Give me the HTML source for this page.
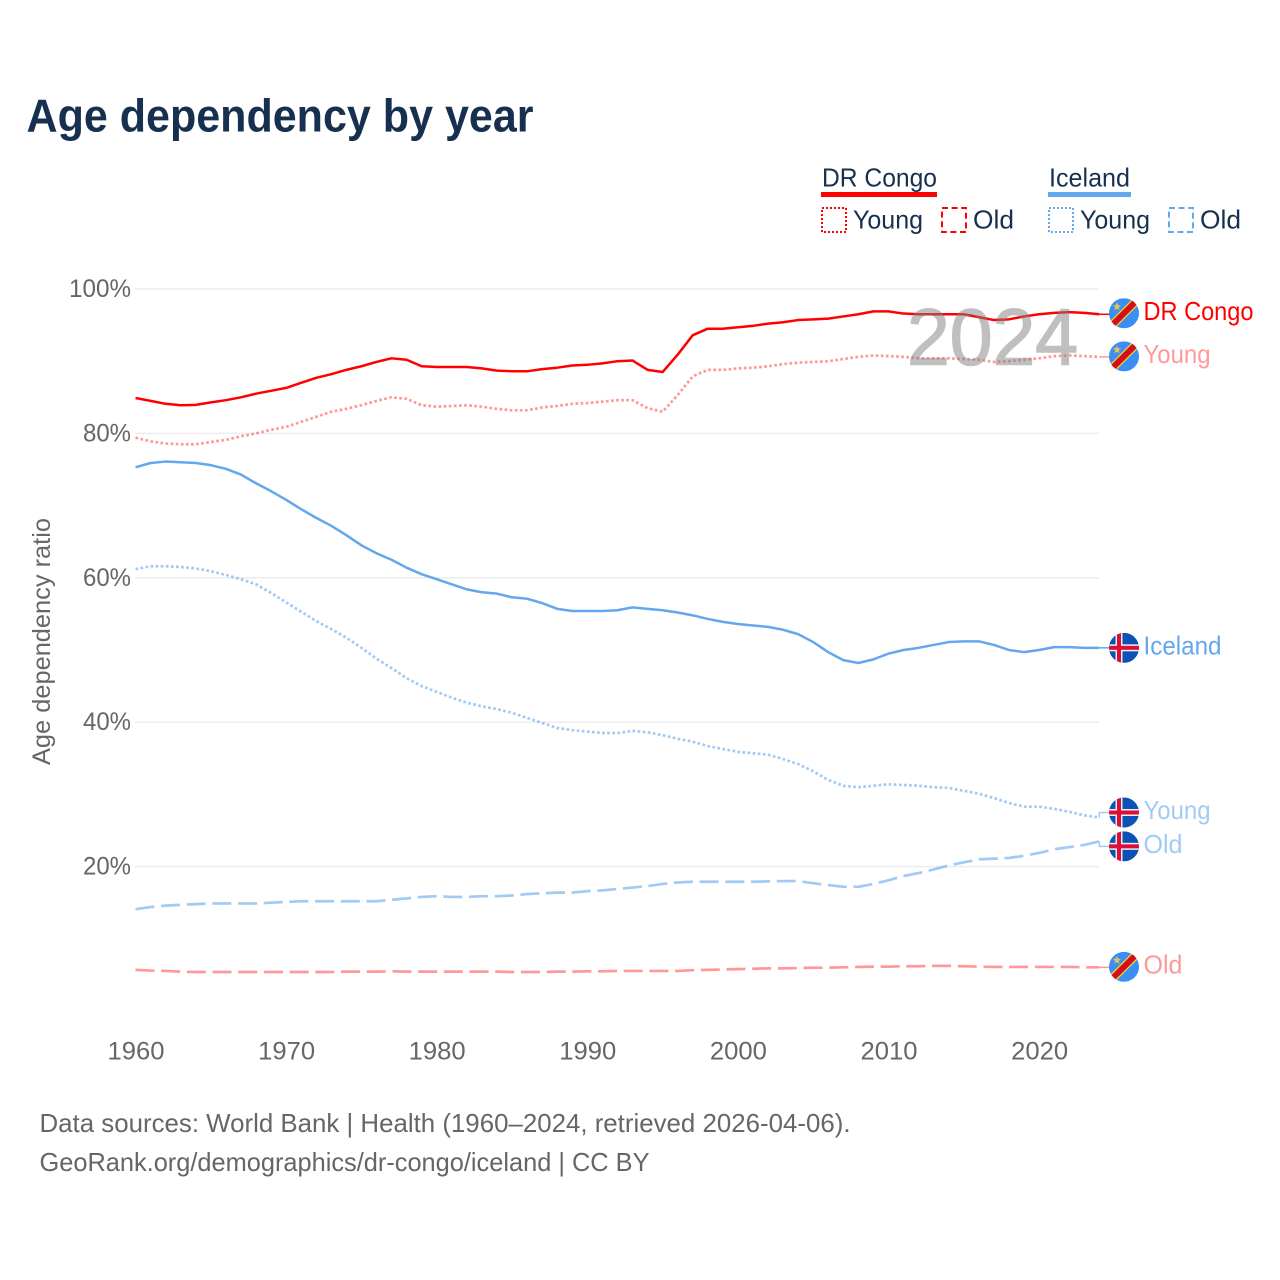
<!DOCTYPE html>
<html lang="en">
<head>
<meta charset="utf-8">
<title>Age dependency by year</title>
<style>
html,body{margin:0;padding:0;background:#fff;}
#chart{display:block;width:1280px;height:1280px;font-family:"Liberation Sans",sans-serif;}
</style>
</head>
<body>
<svg id="chart" xmlns="http://www.w3.org/2000/svg" width="1280" height="1280" viewBox="0 0 1280 1280">
  <rect x="0" y="0" width="1280" height="1280" fill="#fff"/>
  <defs>
    <clipPath id="flag-clip"><circle cx="0" cy="0" r="15"/></clipPath>
  </defs>
  <text x="26.500" y="131.500" font-size="46" font-weight="700" fill="#18304f" textLength="507" lengthAdjust="spacingAndGlyphs">Age dependency by year</text>

  <g font-size="26" fill="#18304f">
    <text x="822" y="186.500" textLength="115" lengthAdjust="spacingAndGlyphs">DR Congo</text>
    <rect x="821" y="192" width="116" height="5" fill="#ff0000"/>
    <rect x="822" y="208" width="24" height="24" fill="none" stroke="#ff0000" stroke-width="2" stroke-dasharray="2 2"/>
    <text x="853" y="228.500" textLength="70" lengthAdjust="spacingAndGlyphs">Young</text>
    <rect x="942" y="208" width="24" height="24" fill="none" stroke="#ff0000" stroke-width="2" stroke-dasharray="6 3.600"/>
    <text x="973" y="228.500" textLength="41" lengthAdjust="spacingAndGlyphs">Old</text>
    <text x="1049" y="186.500" textLength="81" lengthAdjust="spacingAndGlyphs">Iceland</text>
    <rect x="1048" y="192" width="83" height="5" fill="#63a7ec"/>
    <rect x="1049" y="208" width="24" height="24" fill="none" stroke="#63a7ec" stroke-width="2" stroke-dasharray="2 2"/>
    <text x="1080" y="228.500" textLength="70" lengthAdjust="spacingAndGlyphs">Young</text>
    <rect x="1169" y="208" width="24" height="24" fill="none" stroke="#63a7ec" stroke-width="2" stroke-dasharray="6 3.600"/>
    <text x="1200" y="228.500" textLength="41" lengthAdjust="spacingAndGlyphs">Old</text>
  </g>

  <g id="grid"></g>
  <g id="y-ticks"></g>
  <g id="x-ticks"></g>
  <text transform="translate(50,765) rotate(-90)" font-size="25" fill="#666666" textLength="247" lengthAdjust="spacingAndGlyphs">Age dependency ratio</text>

  <g id="series"></g>
  <text x="907" y="364.500" font-size="80" font-weight="400" fill="#808080" stroke="#808080" stroke-width="1.500" opacity="0.5" textLength="171" lengthAdjust="spacingAndGlyphs">2024</text>
  <g id="end-labels"></g>

  <text x="39.500" y="1132" font-size="26" fill="#666666" textLength="811" lengthAdjust="spacingAndGlyphs">Data sources: World Bank | Health (1960–2024, retrieved 2026-04-06).</text>
  <text x="39.500" y="1171" font-size="26" fill="#666666" textLength="610" lengthAdjust="spacingAndGlyphs">GeoRank.org/demographics/dr-congo/iceland | CC BY</text>
</svg>
<script>
var firstYear = 1960;
var yTickValues = [100, 80, 60, 40, 20];
var yGridValues = [100, 80, 60, 40, 20];
var xTickYears = [1960, 1970, 1980, 1990, 2000, 2010, 2020];

var drCongoTotal = [
  84.9,84.5,84.1,83.9,83.95,84.3,84.6,85.0,85.5,85.9,
  86.3,87.0,87.7,88.2,88.8,89.3,89.9,90.4,90.2,89.3,
  89.2,89.2,89.2,89.0,88.7,88.6,88.6,88.9,89.1,89.4,
  89.5,89.7,90.0,90.1,88.8,88.5,90.9,93.6,94.5,94.5,
  94.7,94.9,95.2,95.4,95.7,95.8,95.9,96.2,96.5,96.9,
  96.9,96.6,96.5,96.5,96.5,96.5,96.1,95.7,95.8,96.2,
  96.5,96.7,96.8,96.7,96.5
];
var drCongoYoung = [
  79.4,78.9,78.6,78.5,78.5,78.8,79.1,79.6,80.0,80.5,
  80.9,81.6,82.3,83.0,83.4,83.9,84.5,85.0,84.8,83.9,
  83.7,83.8,83.9,83.7,83.4,83.2,83.2,83.6,83.8,84.1,
  84.2,84.4,84.6,84.6,83.5,83.0,85.3,87.9,88.8,88.8,
  89.0,89.1,89.3,89.6,89.8,89.9,90.0,90.3,90.6,90.8,
  90.7,90.6,90.4,90.4,90.4,90.3,90.2,89.9,90.0,90.2,
  90.4,90.7,90.8,90.7,90.6
];
var drCongoOld = [
  5.7,5.6,5.55,5.45,5.4,5.4,5.4,5.4,5.4,5.4,
  5.4,5.4,5.4,5.4,5.45,5.45,5.45,5.5,5.45,5.45,
  5.45,5.45,5.45,5.45,5.45,5.4,5.4,5.4,5.45,5.45,
  5.5,5.5,5.55,5.55,5.55,5.55,5.55,5.65,5.7,5.75,
  5.8,5.85,5.9,5.9,5.95,6.0,6.0,6.05,6.1,6.15,
  6.15,6.2,6.2,6.25,6.25,6.2,6.15,6.1,6.1,6.1,
  6.1,6.1,6.1,6.05,6.05
];
var icelandTotal = [
  75.3,75.9,76.1,76.0,75.9,75.6,75.1,74.3,73.1,72.0,
  70.8,69.5,68.3,67.2,65.9,64.5,63.4,62.5,61.4,60.5,
  59.8,59.1,58.4,58.0,57.8,57.3,57.1,56.5,55.7,55.4,
  55.4,55.4,55.5,55.9,55.7,55.5,55.2,54.8,54.3,53.9,
  53.6,53.4,53.2,52.8,52.2,51.1,49.7,48.6,48.2,48.7,
  49.5,50.0,50.3,50.7,51.1,51.2,51.2,50.7,50.0,49.7,
  50.0,50.4,50.4,50.3,50.3
];
var icelandYoung = [
  61.2,61.6,61.6,61.5,61.3,60.9,60.4,59.8,59.1,57.9,
  56.6,55.3,54.0,52.9,51.7,50.3,48.8,47.5,46.1,45.0,
  44.2,43.4,42.7,42.2,41.8,41.3,40.6,39.9,39.2,38.9,
  38.7,38.5,38.5,38.8,38.6,38.2,37.7,37.3,36.7,36.3,
  35.9,35.7,35.5,34.9,34.2,33.2,32.0,31.2,31.0,31.2,
  31.4,31.3,31.2,31.0,30.9,30.5,30.1,29.5,28.8,28.3,
  28.3,28.0,27.6,27.1,26.8
];
var icelandOld = [
  14.1,14.4,14.6,14.7,14.8,14.9,14.9,14.9,14.9,15.0,
  15.1,15.2,15.2,15.2,15.2,15.2,15.2,15.4,15.6,15.8,
  15.9,15.8,15.8,15.9,15.9,16.0,16.2,16.3,16.4,16.4,
  16.6,16.7,16.9,17.1,17.3,17.6,17.8,17.9,17.9,17.9,
  17.9,17.9,17.95,18.0,18.0,17.7,17.45,17.2,17.2,17.6,
  18.1,18.7,19.1,19.6,20.15,20.6,21.0,21.1,21.2,21.5,
  21.9,22.4,22.7,23.0,23.5
];

var SVG_NS = 'http://www.w3.org/2000/svg';
function xScale(year) { return 135.5 + 15.06 * (year - firstYear); }
function yScale(v) { return 1011 - 7.22 * v; }
function make(tag, attrs, parent) {
  var el = document.createElementNS(SVG_NS, tag);
  for (var k in attrs) el.setAttribute(k, attrs[k]);
  parent.appendChild(el);
  return el;
}

var gridG = document.getElementById('grid');
yGridValues.forEach(function (v) {
  var ln = make('line', {x1: 135, x2: 1099, y1: yScale(v), y2: yScale(v), stroke: '#ececec', 'stroke-width': 1.5}, gridG);
  
  
});

var yG = document.getElementById('y-ticks');
yTickValues.forEach(function (v) {
  var t = make('text', {x: 131, y: yScale(v) + 8, 'font-size': 25, fill: '#666666', 'text-anchor': 'end',
    textLength: String(v).length === 3 ? 62 : 48, lengthAdjust: 'spacingAndGlyphs'}, yG);
  t.textContent = v + '%';
  
  
});

var xG = document.getElementById('x-ticks');
xTickYears.forEach(function (yr) {
  var t = make('text', {x: xScale(yr) - 28, y: 1059.5, 'font-size': 25, fill: '#666666',
    textLength: 57, lengthAdjust: 'spacingAndGlyphs'}, xG);
  t.textContent = String(yr);
  
  
});

var seriesG = document.getElementById('series');
var labelsG = document.getElementById('end-labels');

function drawFlag(kind, cy) {
  var g = make('g', {transform: 'translate(1124,' + cy + ')', 'clip-path': 'url(#flag-clip)'}, labelsG);
  
  
  if (kind === 'dr-congo') {
    make('rect', {x: -15, y: -15, width: 30, height: 30, fill: '#3a8ef5'}, g);
    make('line', {x1: -18, y1: 18, x2: 18, y2: -18, stroke: '#f7d618', 'stroke-width': 8.5}, g);
    make('line', {x1: -18, y1: 18, x2: 18, y2: -18, stroke: '#ce1021', 'stroke-width': 6}, g);
    make('polygon', {points: '-7,-11 -5.8,-8 -2.8,-8 -5.2,-6 -4.4,-3 -7,-4.8 -9.600,-3 -8.800,-6 -11.200,-8 -8.200,-8', fill: '#e8c54a'}, g);
  } else {
    make('rect', {x: -15, y: -15, width: 30, height: 30, fill: '#0a52b5'}, g);
    make('rect', {x: -15, y: -3.5, width: 30, height: 7, fill: '#eeeeee'}, g);
    make('rect', {x: -8.5, y: -15, width: 7, height: 30, fill: '#eeeeee'}, g);
    make('rect', {x: -15, y: -2, width: 30, height: 4, fill: '#dc1037'}, g);
    make('rect', {x: -7, y: -15, width: 4, height: 30, fill: '#dc1037'}, g);
  }
}

function drawSeries(key, values, color, dash, opacity, labelText, labelWidth, flagKind, flagOffset) {
  var pts = values.map(function (v, i) {
    return xScale(firstYear + i).toFixed(2) + ',' + yScale(v).toFixed(2);
  }).join(' ');
  var line = make('polyline', {points: pts, fill: 'none', stroke: color, 'stroke-opacity': opacity,
    'stroke-width': dash === 'none' ? 2.5 : 2.7, 'stroke-linejoin': 'round', 'stroke-dasharray': dash}, seriesG);
  
  

  var endX = xScale(firstYear + values.length - 1);
  var endY = yScale(values[values.length - 1]);
  var flagY = endY + flagOffset;
  var connPts = Math.abs(flagOffset) > 2
    ? endX + ',' + endY + ' ' + endX + ',' + flagY + ' 1110,' + flagY
    : endX + ',' + endY + ' 1110,' + endY;
  var conn = make('polyline', {
    points: connPts,
    fill: 'none', stroke: color, 'stroke-opacity': opacity, 'stroke-width': 1.5}, seriesG);
  
  

  drawFlag(flagKind, flagY);

  var t = make('text', {x: 1143.5, y: flagY + 6.5, 'font-size': 26, fill: color, 'fill-opacity': opacity,
    textLength: labelWidth, lengthAdjust: 'spacingAndGlyphs'}, labelsG);
  t.textContent = labelText;
  
  
}

drawSeries('dr-congo-total', drCongoTotal, '#ff0000', 'none', 1, 'DR Congo', 110, 'dr-congo', -1);
drawSeries('dr-congo-young', drCongoYoung, '#ff0000', '2.7 2.4', 0.4, 'Young', 67, 'dr-congo', -0.5);
drawSeries('dr-congo-old', drCongoOld, '#ff0000', '19 6.7', 0.4, 'Old', 39, 'dr-congo', -0.5);
drawSeries('iceland-total', icelandTotal, '#63a7ec', 'none', 1, 'Iceland', 78, 'iceland', 0);
drawSeries('iceland-young', icelandYoung, '#63a7ec', '2.7 2.4', 0.6, 'Young', 67, 'iceland', -5);
drawSeries('iceland-old', icelandOld, '#63a7ec', '19 6.7', 0.6, 'Old', 39, 'iceland', 5);
</script>
</body>
</html>
